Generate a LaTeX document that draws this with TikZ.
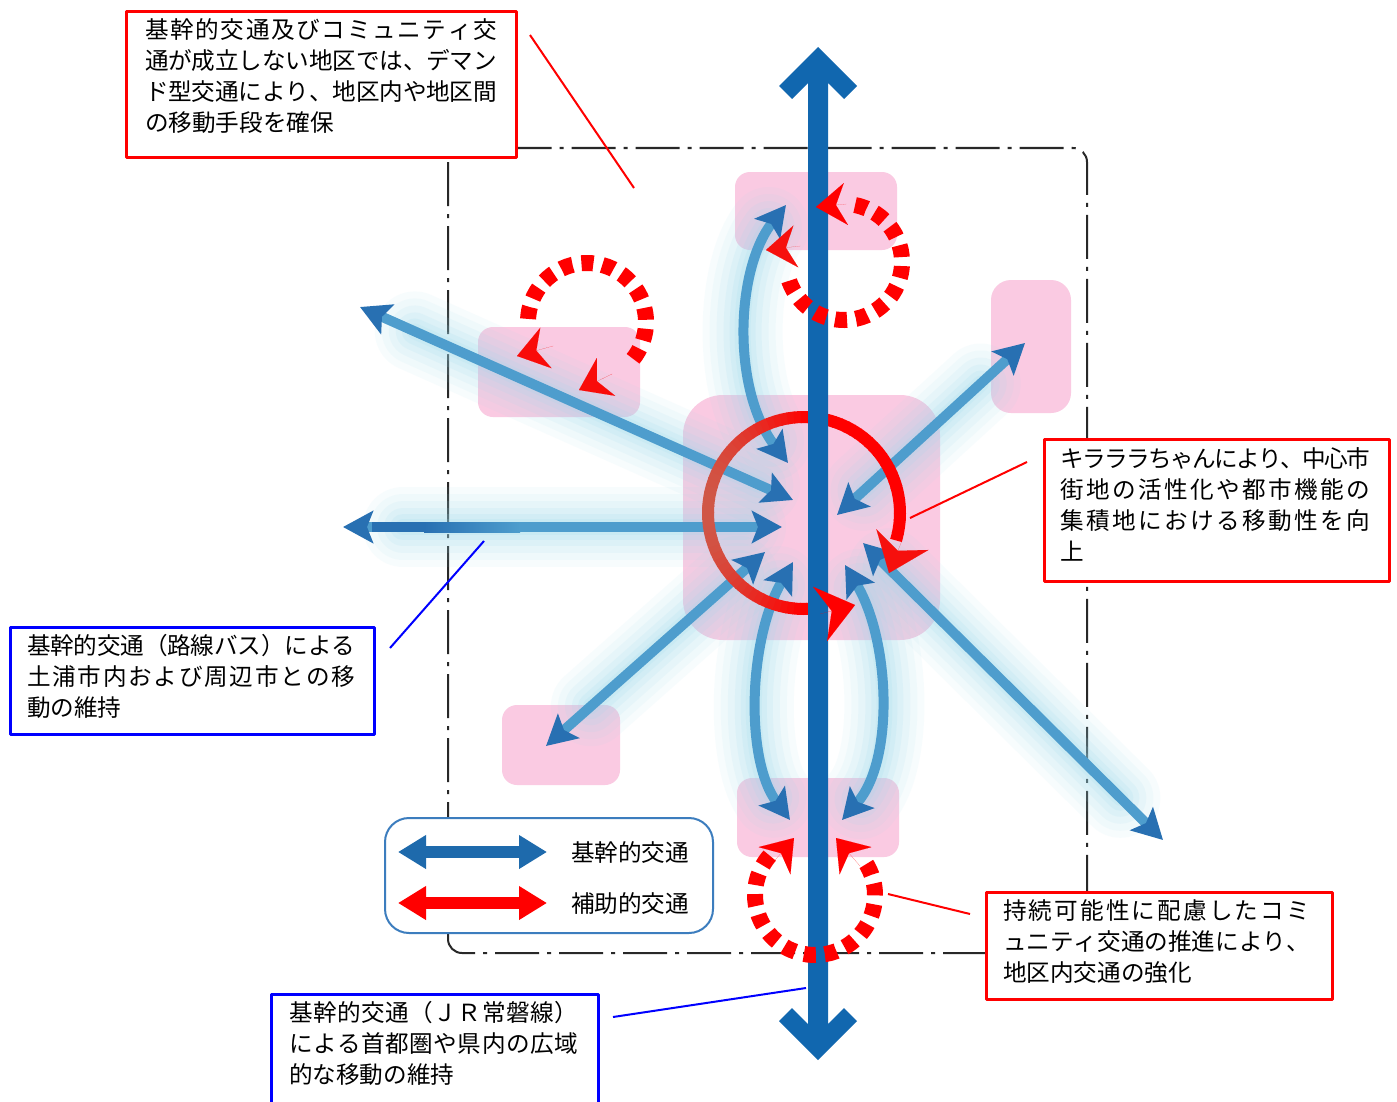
\documentclass[tikz,border=0pt]{standalone}
\usepackage{fontspec}
\newfontfamily\jp{Noto Sans CJK JP}
\usetikzlibrary{arrows.meta}
\definecolor{pinkc}{RGB}{250,202,226}
\definecolor{glowc}{RGB}{155,218,238}
\definecolor{lblue}{RGB}{78,157,205}
\definecolor{tipblue}{RGB}{40,112,178}
\definecolor{mainblue}{RGB}{17,103,175}
\definecolor{legblue}{RGB}{30,106,172}
\definecolor{legframe}{RGB}{60,125,190}
\definecolor{ringbrown}{RGB}{196,108,88}
\definecolor{borderc}{RGB}{40,40,40}

\newcommand\spreadline[2]{\makebox[#1][s]{\spreadaux#2\relax}}
\def\spreadaux#1{#1\futurelet\spreadnext\spreadchk}
\def\spreadchk{\ifx\spreadnext\relax\expandafter\spreadend\else\hskip0pt plus 1fil minus 1fil\relax\expandafter\spreadaux\fi}
\def\spreadend\relax{}

\newcommand\textlines[4]{%
  \foreach \tline [count=\lnum] in {#4}{%
    \node[jtext, anchor=base west] (#1-\lnum) at (#2,{#3+31*(\lnum-1)}) {\tline};}}

\begin{document}
\begin{tikzpicture}[x=0.5pt,y=-0.5pt,line join=round,
  jtext/.style={font=\jp\fontsize{11.8pt}{14pt}\selectfont, inner sep=0pt, outer sep=0pt},
  redframe/.style={draw=red, line width=1.5pt, fill=white, inner sep=0pt, anchor=north west},
  blueframe/.style={draw=blue, line width=1.5pt, fill=white, inner sep=0pt, anchor=north west},
  pinkbox/.style={fill=pinkc, rounded corners=7.5pt},
  glowline/.style={glowc, line cap=round, shorten <=30pt, shorten >=18pt},
  glowcurve/.style={glowc, line cap=round, shorten <=14pt, shorten >=14pt},
  lbarrow/.style={lblue, line width=5pt, {Stealth[length=15pt,width=16pt,inset=3pt,color=tipblue,fill=tipblue]}-{Stealth[length=15pt,width=16pt,inset=3pt,color=tipblue,fill=tipblue]}},
  dashring/.style={red, line width=8pt, dash pattern=on 6pt off 4.5pt},
  redhead/.style={line width=0.01pt, -{Stealth[length=15pt,width=21pt,inset=5pt]}},
  ringhead/.style={line width=0.01pt, -{Stealth[length=18pt,width=28pt,inset=6pt]}},
  leader/.style={line width=1pt},
]
\useasboundingbox (0,0) rectangle (1397,1102);
\fill[white] (0,0) rectangle (1397,1102);

% dash-dot area border
\draw[borderc, line width=1pt, dash pattern=on 22pt off 4pt on 2pt off 4pt, rounded corners=7pt] (448,148) rectangle (1087,953);

% pink districts
\fill[pinkbox] (735,172) rectangle (897,250);
\fill[pinkbox] (478,327) rectangle (640,417);
\fill[pinkbox, rounded corners=10pt] (991,280) rectangle (1071,413);
\fill[pinkbox, rounded corners=20pt] (683,395) rectangle (940,640);
\fill[pinkbox] (502,705) rectangle (620,785);
\fill[pinkbox] (737,778) rectangle (899,857);

% glow around bus arrows
\foreach \w/\o in {40pt/0.07,33pt/0.08,26pt/0.1,19pt/0.12,13pt/0.14,8pt/0.15}{
  \draw[glowline, line width=\w, draw opacity=\o] (360,307) -- (793,500);
  \draw[glowline, line width=\w, draw opacity=\o] (343,527) -- (782,527);
  \draw[glowline, line width=\w, draw opacity=\o] (546,746) -- (765,552);
  \draw[glowline, line width=\w, draw opacity=\o] (1025,343) -- (837,515);
  \draw[glowline, line width=\w, draw opacity=\o] (1163,840) -- (863,543);
  \draw[glowcurve, line width=\w, draw opacity=\o] (786,205) .. controls (735,270) and (732,390) .. (788,463);
  \draw[glowcurve, line width=\w, draw opacity=\o] (793,562) .. controls (748,640) and (745,760) .. (790,820);
  \draw[glowcurve, line width=\w, draw opacity=\o] (845,565) .. controls (890,640) and (895,760) .. (842,820);
}

% bus arrows
\draw[lbarrow] (360,307) -- (793,500);
\draw[lbarrow] (343,527) -- (782,527);
\fill[tipblue] (372,522) rectangle (425,532);
\shade[left color=tipblue, right color=lblue] (424,522) rectangle (520,532);
\draw[lbarrow] (546,746) -- (765,552);
\draw[lbarrow] (1025,343) -- (837,515);
\draw[lbarrow] (1163,840) -- (863,543);
\draw[lbarrow] (786,205) .. controls (735,270) and (732,390) .. (788,463);
\draw[lbarrow] (793,562) .. controls (748,640) and (745,760) .. (790,820);
\draw[lbarrow] (845,565) .. controls (890,640) and (895,760) .. (842,820);

% central ring (Kirara-chan)
\coordinate (rc) at (804,513);
\foreach \a in {80,84,...,372}{%
  \pgfmathtruncatemacro\rp{max(0,min(100,100+80*cos(\a)))}%
  \draw[line width=6pt, red!\rp!ringbrown] ([shift={(\a:96)}]rc) arc[start angle=\a, end angle=\a+4.6, radius=96];}

% JR main line
\fill[mainblue] (818,47) -- (779,86) -- (792,99) -- (808,83) -- (808,1024) -- (792,1008) -- (779,1021) -- (818,1060) -- (857,1021) -- (844,1008) -- (828,1024) -- (828,83) -- (844,99) -- (857,86) -- cycle;

% ring heads
\draw[ringhead, red] (820,614) -- (855,605);
\draw[ringhead, red!85!ringbrown] (903,538) -- (889,573);

% community transport dashed circles
\coordinate (ca) at (844,262);
\draw[dashring] ([shift={(281:58)}]ca) arc[start angle=281, end angle=528, radius=58];
\coordinate (cb) at (587,322);
\draw[dashring] ([shift={(183:59)}]cb) arc[start angle=183, end angle=405, radius=59];
\coordinate (cc) at (815,895);
\draw[dashring] ([shift={(221:60)}]cc) arc[start angle=221, end angle=-34, radius=60];
\draw[redhead, red] (846,204) -- (816,207);
\draw[redhead, red!85!ringbrown] (800,246) -- (766,250);
\draw[redhead, red!90!ringbrown] (553,346) -- (517,356);
\draw[redhead, red!90!ringbrown] (612,374) -- (579,390);
\draw[redhead, red] (770,866) -- (794,838);
\draw[redhead, red] (860,866) -- (836,838);

% leader lines
\coordinate (ld1a) at (530,35);   \coordinate (ld1b) at (634,188);
\coordinate (ld2a) at (1027,462); \coordinate (ld2b) at (910,518);
\coordinate (ld3a) at (390,648);  \coordinate (ld3b) at (484,541);
\coordinate (ld4a) at (970,914);  \coordinate (ld4b) at (888,894);
\coordinate (ld5a) at (613,1017); \coordinate (ld5b) at (806,988);
\draw[leader, red] (ld1a) -- (ld1b);
\draw[leader, red] (ld2a) -- (ld2b);
\draw[leader, blue] (ld3a) -- (ld3b);
\draw[leader, red] (ld4a) -- (ld4b);
\draw[leader, blue] (ld5a) -- (ld5b);

% text boxes
\node[redframe, minimum width=195pt, minimum height=73pt] (box1) at (125,10) {};
\textlines{tA}{145}{39}{{\spreadline{176pt}{基幹的交通及びコミュニティ交}},{\spreadline{176pt}{通が成立しない地区では、デマン}},{\spreadline{176pt}{ド型交通により、地区内や地区間}},の移動手段を確保}

\node[redframe, minimum width=172.5pt, minimum height=71pt] (box2) at (1043,438) {};
\textlines{tB}{1060}{467}{{\spreadline{155pt}{キラララちゃんにより、中心市}},{\spreadline{155pt}{街地の活性化や都市機能の}},{\spreadline{155pt}{集積地における移動性を向}},上}

\node[blueframe, minimum width=182pt, minimum height=53.5pt] (box3) at (9,626) {};
\textlines{tC}{27}{654}{{\spreadline{164pt}{基幹的交通（路線バス）による}},{\spreadline{164pt}{土浦市内および周辺市との移}},動の維持}

\node[blueframe, minimum width=163.5pt, minimum height=60pt] (box4) at (270,993) {};
\textlines{tD}{289}{1021}{{\spreadline{144.5pt}{基幹的交通（ＪＲ常磐線）}},{\spreadline{144.5pt}{による首都圏や県内の広域}},的な移動の維持}

\node[redframe, minimum width=173pt, minimum height=53.5pt] (box5) at (985,891) {};
\textlines{tE}{1003}{919}{{\spreadline{153.5pt}{持続可能性に配慮したコミ}},{\spreadline{153.5pt}{ュニティ交通の推進により、}},地区内交通の強化}

% legend
\node[draw=legframe, line width=1pt, rounded corners=12pt, fill=white, minimum width=164pt, minimum height=57.5pt, anchor=north west, inner sep=0pt] (legend) at (384,817) {};
\coordinate (lg1a) at (398,852); \coordinate (lg1b) at (547,852);
\coordinate (lg2a) at (398,903); \coordinate (lg2b) at (547,903);
\draw[legblue, line width=6pt, {Triangle[length=14pt,width=16pt]}-{Triangle[length=14pt,width=16pt]}] (lg1a) -- (lg1b);
\draw[red, line width=6pt, {Triangle[length=14pt,width=16pt]}-{Triangle[length=14pt,width=16pt]}] (lg2a) -- (lg2b);
\node[jtext, anchor=base west] (lgt1) at (571,861) {基幹的交通};
\node[jtext, anchor=base west] (lgt2) at (571,912) {補助的交通};
\end{tikzpicture}
\end{document}
